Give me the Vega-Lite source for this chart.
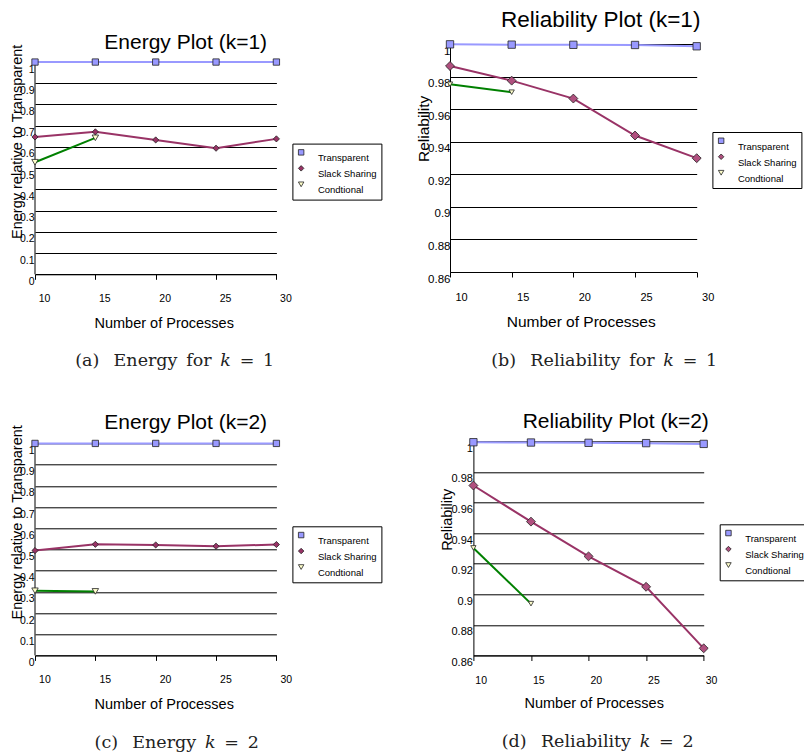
{
  "$schema": "https://vega.github.io/schema/vega-lite/v6.json",
  "background": "white",
  "padding": {"left": 9, "top": 9, "right": 0, "bottom": 0},
  "data": {"values": [
    {"panel": "a", "series": "Transparent", "processes": 10, "value": 1},
    {"panel": "a", "series": "Transparent", "processes": 15, "value": 1},
    {"panel": "a", "series": "Transparent", "processes": 20, "value": 1},
    {"panel": "a", "series": "Transparent", "processes": 25, "value": 1},
    {"panel": "a", "series": "Transparent", "processes": 30, "value": 1},
    {"panel": "a", "series": "Slack Sharing", "processes": 10, "value": 0.647},
    {"panel": "a", "series": "Slack Sharing", "processes": 15, "value": 0.671},
    {"panel": "a", "series": "Slack Sharing", "processes": 20, "value": 0.633},
    {"panel": "a", "series": "Slack Sharing", "processes": 25, "value": 0.594},
    {"panel": "a", "series": "Slack Sharing", "processes": 30, "value": 0.638},
    {"panel": "a", "series": "Condtional", "processes": 10, "value": 0.528},
    {"panel": "a", "series": "Condtional", "processes": 15, "value": 0.643},
    {"panel": "b", "series": "Transparent", "processes": 10, "value": 0.9998},
    {"panel": "b", "series": "Transparent", "processes": 15, "value": 0.9996},
    {"panel": "b", "series": "Transparent", "processes": 20, "value": 0.9995},
    {"panel": "b", "series": "Transparent", "processes": 25, "value": 0.9994},
    {"panel": "b", "series": "Transparent", "processes": 30, "value": 0.9986},
    {"panel": "b", "series": "Slack Sharing", "processes": 10, "value": 0.9865},
    {"panel": "b", "series": "Slack Sharing", "processes": 15, "value": 0.9775},
    {"panel": "b", "series": "Slack Sharing", "processes": 20, "value": 0.9665},
    {"panel": "b", "series": "Slack Sharing", "processes": 25, "value": 0.9438},
    {"panel": "b", "series": "Slack Sharing", "processes": 30, "value": 0.9299},
    {"panel": "b", "series": "Condtional", "processes": 10, "value": 0.9753},
    {"panel": "b", "series": "Condtional", "processes": 15, "value": 0.9704},
    {"panel": "c", "series": "Transparent", "processes": 10, "value": 1},
    {"panel": "c", "series": "Transparent", "processes": 15, "value": 1},
    {"panel": "c", "series": "Transparent", "processes": 20, "value": 1},
    {"panel": "c", "series": "Transparent", "processes": 25, "value": 1},
    {"panel": "c", "series": "Transparent", "processes": 30, "value": 1},
    {"panel": "c", "series": "Slack Sharing", "processes": 10, "value": 0.4945},
    {"panel": "c", "series": "Slack Sharing", "processes": 15, "value": 0.524},
    {"panel": "c", "series": "Slack Sharing", "processes": 20, "value": 0.521},
    {"panel": "c", "series": "Slack Sharing", "processes": 25, "value": 0.515},
    {"panel": "c", "series": "Slack Sharing", "processes": 30, "value": 0.523},
    {"panel": "c", "series": "Condtional", "processes": 10, "value": 0.305},
    {"panel": "c", "series": "Condtional", "processes": 15, "value": 0.302},
    {"panel": "d", "series": "Transparent", "processes": 10, "value": 0.9994},
    {"panel": "d", "series": "Transparent", "processes": 15, "value": 0.9992},
    {"panel": "d", "series": "Transparent", "processes": 20, "value": 0.999},
    {"panel": "d", "series": "Transparent", "processes": 25, "value": 0.9988},
    {"panel": "d", "series": "Transparent", "processes": 30, "value": 0.9983},
    {"panel": "d", "series": "Slack Sharing", "processes": 10, "value": 0.9711},
    {"panel": "d", "series": "Slack Sharing", "processes": 15, "value": 0.9475},
    {"panel": "d", "series": "Slack Sharing", "processes": 20, "value": 0.9248},
    {"panel": "d", "series": "Slack Sharing", "processes": 25, "value": 0.9049},
    {"panel": "d", "series": "Slack Sharing", "processes": 30, "value": 0.8647},
    {"panel": "d", "series": "Condtional", "processes": 10, "value": 0.9303},
    {"panel": "d", "series": "Condtional", "processes": 15, "value": 0.8939}
  ]},
  "bounds": "flush",
  "spacing": 397.3,
  "resolve": {"scale": {"x": "independent", "y": "independent", "color": "independent", "fill": "independent", "shape": "independent", "size": "independent"}, "legend": {"color": "independent", "fill": "independent", "shape": "independent", "size": "independent"}, "axis": {"x": "independent", "y": "independent"}},
  "vconcat": [
    {
      "bounds": "flush",
      "spacing": 415,
      "resolve": {"scale": {"x": "independent", "y": "independent", "color": "independent", "fill": "independent", "shape": "independent", "size": "independent"}, "legend": {"color": "independent", "fill": "independent", "shape": "independent", "size": "independent"}, "axis": {"x": "independent", "y": "independent"}},
      "hconcat": [
        {
          "title": {"text": "(a)\u2002 Energy\u2002for\u2002𝑘\u2002=\u20021", "orient": "bottom", "font": "DejaVu Serif", "fontSize": 17.5, "fontWeight": "normal", "anchor": "middle", "frame": "group", "dx": 139.7, "offset": 31, "baseline": "middle", "color": "#222"},
          "resolve": {"scale": {"x": "independent", "y": "independent", "color": "independent", "fill": "independent", "shape": "independent", "size": "independent"}, "legend": {"color": "independent", "fill": "independent", "shape": "independent", "size": "independent"}},
          "vconcat": [
            {
              "title": {"text": "Energy Plot (k=1)", "fontSize": 21, "anchor": "middle", "frame": "group", "dx": 30, "dy": 19.6, "offset": 0, "baseline": "middle"},
              "width": 241.4,
              "height": 230.3,
              "layer": [
                {
                  "data": {"values": [{}]},
                  "mark": {"type": "rule", "color": "black", "strokeWidth": 1},
                  "encoding": {"x": {"datum": 10, "type": "quantitative"}, "y": {"datum": 0, "type": "quantitative"}, "y2": {"datum": 1}}
                },
                {
                  "transform": [{"filter": "datum.panel === 'a'"}],
                  "mark": {"type": "line", "strokeWidth": 2, "clip": false},
                  "encoding": {
                    "x": {"field": "processes", "type": "quantitative", "scale": {"domain": [10, 30], "nice": false, "zero": false},
                      "axis": {"values": [10, 15, 20, 25, 30], "tickCount": 30, "format": "~g", "title": "Number of Processes", "titleFontSize": 14.5, "titleX": 128.7, "titleY": 49, "titleBaseline": "middle", "titleAnchor": null, "titleAlign": "center", "grid": false, "ticks": true, "tickSize": 5, "labelFontSize": 10.5, "labelOffset": 9, "labelPadding": 19, "labelBaseline": "middle", "labelAlign": "center", "labelFlush": false, "labelOverlap": false}},
                    "y": {"field": "value", "type": "quantitative", "scale": {"domain": [0, 1.085], "nice": false, "zero": false},
                      "axis": {"values": [0, 0.1, 0.2, 0.3, 0.4, 0.5, 0.6, 0.7, 0.8, 0.9, 1], "tickCount": 30, "format": "~g", "title": "Energy relative to Transparent", "titleFontSize": 14.5, "titleX": -18, "titleY": 97.3, "titleAngle": -90, "titleBaseline": "middle", "titleAlign": "center", "titleAnchor": null, "domain": false, "ticks": false, "grid": true, "labelFontSize": 10.5, "labelOffset": 7, "labelPadding": 1, "labelBaseline": "middle", "labelFlush": false, "labelOverlap": false}},
                    "color": {"field": "series", "type": "nominal", "scale": {"domain": ["Condtional", "Slack Sharing", "Transparent"], "range": ["#008000", "#993366", "#9999ff"]}, "legend": null}
                  }
                },
                {
                  "transform": [{"filter": "datum.panel === 'a'"}],
                  "mark": {"type": "point", "filled": true, "stroke": "#222", "strokeWidth": 0.8, "opacity": 1, "clip": false},
                  "encoding": {
                    "x": {"field": "processes", "type": "quantitative"},
                    "y": {"field": "value", "type": "quantitative"},
                    "stroke": {"value": "#222"},
                    "size": {"field": "series", "type": "nominal", "scale": {"domain": ["Slack Sharing", "Transparent", "Condtional"], "range": [38, 42, 60]}, "legend": null},
                    "fill": {"field": "series", "type": "nominal", "scale": {"domain": ["Transparent", "Slack Sharing", "Condtional"], "range": ["#9999ff", "#993366", "#ffffcc"]},
                      "legend": {"orient": "none", "legendX": 257.4, "legendY": 99.6, "title": null, "strokeColor": "black", "fillColor": "white", "padding": 4, "labelFontSize": 9.5, "labelBaseline": "line-top", "labelLineHeight": 26, "symbolSize": 30, "symbolStrokeWidth": 0.8, "labelOffset": 12, "rowPadding": 0}},
                    "shape": {"field": "series", "type": "nominal", "scale": {"domain": ["Transparent", "Slack Sharing", "Condtional"], "range": ["square", "diamond", "triangle-down"]},
                      "legend": {"orient": "none", "legendX": 257.4, "legendY": 99.6, "title": null, "strokeColor": "black", "fillColor": "white", "padding": 4, "labelFontSize": 9.5, "labelBaseline": "line-top", "labelLineHeight": 26, "symbolSize": 30, "symbolStrokeWidth": 0.8, "labelOffset": 12, "rowPadding": 0}}
                  }
                }
              ]
            }
          ]
        },
        {
          "title": {"text": "(b)\u2002 Reliability\u2002for\u2002𝑘\u2002=\u20021", "orient": "bottom", "font": "DejaVu Serif", "fontSize": 17.5, "fontWeight": "normal", "anchor": "middle", "frame": "group", "dx": 154.2, "offset": 31, "baseline": "middle", "color": "#222"},
          "resolve": {"scale": {"x": "independent", "y": "independent", "color": "independent", "fill": "independent", "shape": "independent", "size": "independent"}, "legend": {"color": "independent", "fill": "independent", "shape": "independent", "size": "independent"}},
          "vconcat": [
            {
              "title": {"text": "Reliability Plot (k=1)", "fontSize": 22.5, "anchor": "middle", "frame": "group", "dx": 27.3, "dy": 3.6, "offset": 0, "baseline": "middle"},
              "width": 246.7,
              "height": 228,
              "layer": [
                {
                  "transform": [{"filter": "datum.panel === 'b'"}],
                  "mark": {"type": "line", "strokeWidth": 2, "clip": false},
                  "encoding": {
                    "x": {"field": "processes", "type": "quantitative", "scale": {"domain": [10, 30], "nice": false, "zero": false},
                      "axis": {"values": [10, 15, 20, 25, 30], "tickCount": 30, "format": "~g", "title": "Number of Processes", "titleFontSize": 15.5, "titleX": 130.7, "titleY": 49.3, "titleBaseline": "middle", "titleAnchor": null, "titleAlign": "center", "grid": false, "ticks": true, "tickSize": 5, "labelFontSize": 11, "labelOffset": 11, "labelPadding": 20, "labelBaseline": "middle", "labelAlign": "center", "labelFlush": false, "labelOverlap": false}},
                    "y": {"field": "value", "type": "quantitative", "scale": {"domain": [0.86, 1], "nice": false, "zero": false},
                      "axis": {"values": [0.86, 0.88, 0.9, 0.92, 0.94, 0.96, 0.98, 1], "tickCount": 30, "format": "~g", "title": "Reliability", "titleFontSize": 15.5, "titleX": -27, "titleY": 84.3, "titleAngle": -90, "titleBaseline": "middle", "titleAlign": "center", "titleAnchor": null, "domain": true, "ticks": false, "grid": true, "labelFontSize": 11.5, "labelOffset": 7, "labelPadding": 0, "labelBaseline": "middle", "labelFlush": false, "labelOverlap": false}},
                    "color": {"field": "series", "type": "nominal", "scale": {"domain": ["Condtional", "Slack Sharing", "Transparent"], "range": ["#008000", "#993366", "#9999ff"]}, "legend": null}
                  }
                },
                {
                  "transform": [{"filter": "datum.panel === 'b'"}],
                  "mark": {"type": "point", "filled": true, "stroke": "#222", "strokeWidth": 0.8, "opacity": 1, "clip": false},
                  "encoding": {
                    "x": {"field": "processes", "type": "quantitative"},
                    "y": {"field": "value", "type": "quantitative"},
                    "stroke": {"value": "#222"},
                    "size": {"field": "series", "type": "nominal", "scale": {"domain": ["Slack Sharing", "Transparent", "Condtional"], "range": [80, 28, 130]}, "legend": null},
                    "fill": {"field": "series", "type": "nominal", "scale": {"domain": ["Transparent", "Slack Sharing", "Condtional"], "range": ["#9999ff", "#b0507f", "#ffffcc"]},
                      "legend": {"orient": "none", "legendX": 262.4, "legendY": 88, "title": null, "strokeColor": "black", "fillColor": "white", "padding": 4, "labelFontSize": 9.5, "labelBaseline": "line-top", "labelLineHeight": 26, "symbolSize": 30, "symbolStrokeWidth": 0.8, "labelOffset": 12, "rowPadding": 0}},
                    "shape": {"field": "series", "type": "nominal", "scale": {"domain": ["Transparent", "Slack Sharing", "Condtional"], "range": ["square", "diamond", "triangle-down"]},
                      "legend": {"orient": "none", "legendX": 262.4, "legendY": 88, "title": null, "strokeColor": "black", "fillColor": "white", "padding": 4, "labelFontSize": 9.5, "labelBaseline": "line-top", "labelLineHeight": 26, "symbolSize": 30, "symbolStrokeWidth": 0.8, "labelOffset": 12, "rowPadding": 0}}
                  }
                }
              ]
            }
          ]
        }
      ]
    },
    {
      "bounds": "flush",
      "spacing": 438.4,
      "resolve": {"scale": {"x": "independent", "y": "independent", "color": "independent", "fill": "independent", "shape": "independent", "size": "independent"}, "legend": {"color": "independent", "fill": "independent", "shape": "independent", "size": "independent"}, "axis": {"x": "independent", "y": "independent"}},
      "hconcat": [
        {
          "title": {"text": "(c)\u2002 Energy\u2002𝑘\u2002=\u20022", "orient": "bottom", "font": "DejaVu Serif", "fontSize": 17.5, "fontWeight": "normal", "anchor": "middle", "frame": "group", "dx": 141.7, "offset": 32, "baseline": "middle", "color": "#222"},
          "resolve": {"scale": {"x": "independent", "y": "independent", "color": "independent", "fill": "independent", "shape": "independent", "size": "independent"}, "legend": {"color": "independent", "fill": "independent", "shape": "independent", "size": "independent"}},
          "vconcat": [
            {
              "title": {"text": "Energy Plot (k=2)", "fontSize": 21, "anchor": "middle", "frame": "group", "dx": 30, "dy": 19, "offset": 0, "baseline": "middle"},
              "width": 241.4,
              "height": 214.1,
              "layer": [
                {
                  "data": {"values": [{}]},
                  "mark": {"type": "rule", "color": "black", "strokeWidth": 1},
                  "encoding": {"x": {"datum": 10, "type": "quantitative"}, "y": {"datum": 0, "type": "quantitative"}, "y2": {"datum": 1}}
                },
                {
                  "transform": [{"filter": "datum.panel === 'c'"}],
                  "mark": {"type": "line", "strokeWidth": 2, "clip": false},
                  "encoding": {
                    "x": {"field": "processes", "type": "quantitative", "scale": {"domain": [10, 30], "nice": false, "zero": false},
                      "axis": {"values": [10, 15, 20, 25, 30], "tickCount": 30, "format": "~g", "title": "Number of Processes", "titleFontSize": 14.5, "titleX": 128.7, "titleY": 49, "titleBaseline": "middle", "titleAnchor": null, "titleAlign": "center", "grid": false, "ticks": true, "tickSize": 5, "labelFontSize": 10.5, "labelOffset": 9.4, "labelPadding": 19, "labelBaseline": "middle", "labelAlign": "center", "labelFlush": false, "labelOverlap": false}},
                    "y": {"field": "value", "type": "quantitative", "scale": {"domain": [0, 1.01], "nice": false, "zero": false},
                      "axis": {"values": [0, 0.1, 0.2, 0.3, 0.4, 0.5, 0.6, 0.7, 0.8, 0.9, 1], "tickCount": 30, "format": "~g", "title": "Energy relative to Transparent", "titleFontSize": 14.5, "titleX": -18, "titleY": 80.5, "titleAngle": -90, "titleBaseline": "middle", "titleAlign": "center", "titleAnchor": null, "domain": false, "ticks": false, "grid": true, "labelFontSize": 10.5, "labelOffset": 7, "labelPadding": 1, "labelBaseline": "middle", "labelFlush": false, "labelOverlap": false}},
                    "color": {"field": "series", "type": "nominal", "scale": {"domain": ["Condtional", "Slack Sharing", "Transparent"], "range": ["#008000", "#993366", "#9999ff"]}, "legend": null}
                  }
                },
                {
                  "transform": [{"filter": "datum.panel === 'c'"}],
                  "mark": {"type": "point", "filled": true, "stroke": "#222", "strokeWidth": 0.8, "opacity": 1, "clip": false},
                  "encoding": {
                    "x": {"field": "processes", "type": "quantitative"},
                    "y": {"field": "value", "type": "quantitative"},
                    "stroke": {"value": "#222"},
                    "size": {"field": "series", "type": "nominal", "scale": {"domain": ["Slack Sharing", "Transparent", "Condtional"], "range": [38, 42, 60]}, "legend": null},
                    "fill": {"field": "series", "type": "nominal", "scale": {"domain": ["Transparent", "Slack Sharing", "Condtional"], "range": ["#9999ff", "#993366", "#ffffcc"]},
                      "legend": {"orient": "none", "legendX": 257.4, "legendY": 85, "title": null, "strokeColor": "black", "fillColor": "white", "padding": 4, "labelFontSize": 9.5, "labelBaseline": "line-top", "labelLineHeight": 26, "symbolSize": 30, "symbolStrokeWidth": 0.8, "labelOffset": 12, "rowPadding": 0}},
                    "shape": {"field": "series", "type": "nominal", "scale": {"domain": ["Transparent", "Slack Sharing", "Condtional"], "range": ["square", "diamond", "triangle-down"]},
                      "legend": {"orient": "none", "legendX": 257.4, "legendY": 85, "title": null, "strokeColor": "black", "fillColor": "white", "padding": 4, "labelFontSize": 9.5, "labelBaseline": "line-top", "labelLineHeight": 26, "symbolSize": 30, "symbolStrokeWidth": 0.8, "labelOffset": 12, "rowPadding": 0}}
                  }
                }
              ]
            }
          ]
        },
        {
          "title": {"text": "(d)\u2002 Reliability\u2002𝑘\u2002=\u20022", "orient": "bottom", "font": "DejaVu Serif", "fontSize": 17.5, "fontWeight": "normal", "anchor": "middle", "frame": "group", "dx": 124.3, "offset": 32, "baseline": "middle", "color": "#222"},
          "resolve": {"scale": {"x": "independent", "y": "independent", "color": "independent", "fill": "independent", "shape": "independent", "size": "independent"}, "legend": {"color": "independent", "fill": "independent", "shape": "independent", "size": "independent"}},
          "vconcat": [
            {
              "title": {"text": "Reliability Plot (k=2)", "fontSize": 21, "anchor": "middle", "frame": "group", "dx": 27.2, "dy": 6, "offset": 0, "baseline": "middle"},
              "width": 230.3,
              "height": 214.2,
              "layer": [
                {
                  "transform": [{"filter": "datum.panel === 'd'"}],
                  "mark": {"type": "line", "strokeWidth": 2, "clip": false},
                  "encoding": {
                    "x": {"field": "processes", "type": "quantitative", "scale": {"domain": [10, 30], "nice": false, "zero": false},
                      "axis": {"values": [10, 15, 20, 25, 30], "tickCount": 30, "format": "~g", "title": "Number of Processes", "titleFontSize": 14.5, "titleX": 120.3, "titleY": 47.7, "titleBaseline": "middle", "titleAnchor": null, "titleAlign": "center", "grid": false, "ticks": true, "tickSize": 5, "labelFontSize": 10.5, "labelOffset": 7.3, "labelPadding": 19.7, "labelBaseline": "middle", "labelAlign": "center", "labelFlush": false, "labelOverlap": false}},
                    "y": {"field": "value", "type": "quantitative", "scale": {"domain": [0.86, 1], "nice": false, "zero": false},
                      "axis": {"values": [0.86, 0.88, 0.9, 0.92, 0.94, 0.96, 0.98, 1], "tickCount": 30, "format": "~g", "title": "Reliability", "titleFontSize": 14.5, "titleX": -25.7, "titleY": 78, "titleAngle": -90, "titleBaseline": "middle", "titleAlign": "center", "titleAnchor": null, "domain": true, "ticks": false, "grid": true, "labelFontSize": 11, "labelOffset": 7, "labelPadding": 1, "labelBaseline": "middle", "labelFlush": false, "labelOverlap": false}},
                    "color": {"field": "series", "type": "nominal", "scale": {"domain": ["Condtional", "Slack Sharing", "Transparent"], "range": ["#008000", "#993366", "#9999ff"]}, "legend": null}
                  }
                },
                {
                  "transform": [{"filter": "datum.panel === 'd'"}],
                  "mark": {"type": "point", "filled": true, "stroke": "#222", "strokeWidth": 0.8, "opacity": 1, "clip": false},
                  "encoding": {
                    "x": {"field": "processes", "type": "quantitative"},
                    "y": {"field": "value", "type": "quantitative"},
                    "stroke": {"value": "#222"},
                    "size": {"field": "series", "type": "nominal", "scale": {"domain": ["Slack Sharing", "Transparent", "Condtional"], "range": [80, 28, 130]}, "legend": null},
                    "fill": {"field": "series", "type": "nominal", "scale": {"domain": ["Transparent", "Slack Sharing", "Condtional"], "range": ["#9999ff", "#b0507f", "#ffffcc"]},
                      "legend": {"orient": "none", "legendX": 246.3, "legendY": 83, "title": null, "strokeColor": "black", "fillColor": "white", "padding": 4, "labelFontSize": 9.5, "labelBaseline": "line-top", "labelLineHeight": 26, "symbolSize": 30, "symbolStrokeWidth": 0.8, "labelOffset": 12, "rowPadding": 0}},
                    "shape": {"field": "series", "type": "nominal", "scale": {"domain": ["Transparent", "Slack Sharing", "Condtional"], "range": ["square", "diamond", "triangle-down"]},
                      "legend": {"orient": "none", "legendX": 246.3, "legendY": 83, "title": null, "strokeColor": "black", "fillColor": "white", "padding": 4, "labelFontSize": 9.5, "labelBaseline": "line-top", "labelLineHeight": 26, "symbolSize": 30, "symbolStrokeWidth": 0.8, "labelOffset": 12, "rowPadding": 0}}
                  }
                }
              ]
            }
          ]
        }
      ]
    }
  ],
  "config": {
    "font": "Liberation Sans",
    "view": {"stroke": null},
    "axis": {"labelColor": "black", "titleColor": "black", "titleFontWeight": "normal", "labelFont": "Liberation Sans", "titleFont": "Liberation Sans", "gridColor": "black", "gridOpacity": 1, "gridWidth": 1, "domainColor": "black", "domainWidth": 1, "tickColor": "black", "tickWidth": 1},
    "title": {"font": "Liberation Sans", "fontWeight": "normal", "color": "black"},
    "legend": {"labelFont": "Liberation Sans", "labelColor": "black", "cornerRadius": 0, "strokeWidth": 1}
  }
}
